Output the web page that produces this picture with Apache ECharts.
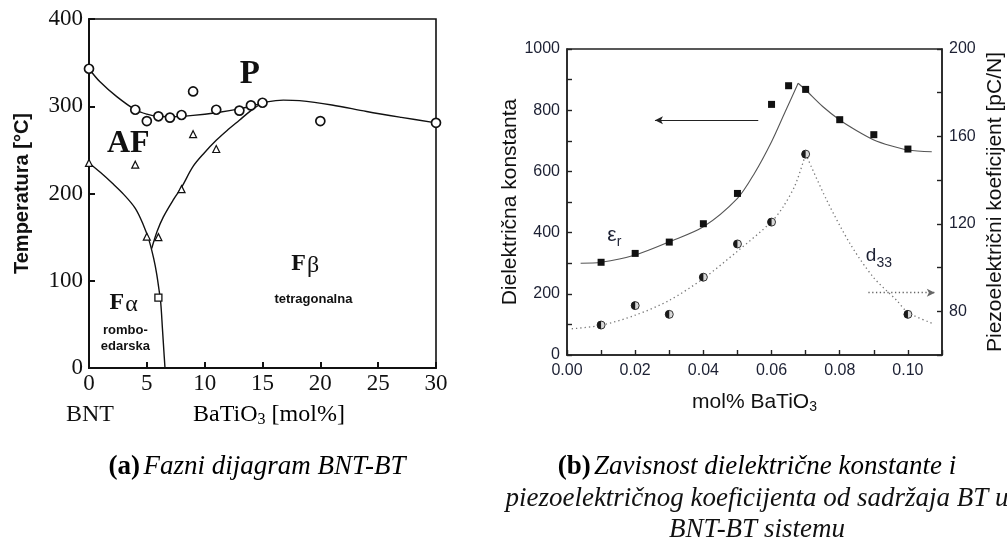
<!DOCTYPE html>
<html><head><meta charset="utf-8">
<script src="https://cdn.jsdelivr.net/npm/echarts@6/dist/echarts.min.js"></script>
<style>html,body{margin:0;padding:0;background:#fff}#c{width:1007px;height:545px}</style>
</head><body><div id="c"></div>
<script>
// ---------- (a) phase diagram BNT-BT ----------
const circleX = [0, 4, 5, 6, 7, 8, 9, 11, 13, 14, 15, 20, 30];
const circleT = [343, 296, 283, 288.5, 287, 290, 317, 296, 295, 301, 304, 283, 281];
const triangleX = [0, 4, 5, 6, 8, 9, 11];
const triangleT = [235, 233, 150.5, 150, 205, 268, 251];
const squareX = [6];
const squareT = [80.6];
const upperLineX = [0, 0.95, 2.4, 4, 5, 6, 7.3, 9, 11, 13, 14, 15.4, 16.8, 18.2, 21, 24, 27, 30];
const upperLineT = [343, 328, 311, 296, 291, 288.5, 288, 289.5, 292.6, 297, 300, 305, 307, 306.4, 301.5, 294, 287.3, 281];
const afLineX = [0, 1, 2, 3, 4, 4.7, 5.2, 5.6, 5.85, 6.05, 6.2, 6.35, 6.47, 6.57];
const afLineT = [235, 224, 212, 199, 183, 164, 146, 125, 108, 90, 75, 45, 20, 0];
const fbLineX = [5.42, 5.9, 6.42, 7.3, 8, 9, 10, 11, 12, 13, 14, 15];
const fbLineT = [137, 157, 173, 193, 207, 231, 247, 261, 273, 284, 295, 304];
const phaseLabelText = ['P', 'AF', 'Fβ', 'Fα', 'tetragonalna', 'rombo-\nedarska'];
const phaseLabelX = [13.9, 3.4, 18.7, 3.0, 19.4, 3.15];
const phaseLabelT = [336, 257, 119, 75, 79, 34];

// ---------- (b) dielectric / piezoelectric ----------
const btX = [0.01, 0.02, 0.03, 0.04, 0.05, 0.06, 0.065, 0.07, 0.08, 0.09, 0.10];
const epsR = [303, 332, 369, 429, 528, 819, 880, 868, 769, 720, 673];
const d33X = [0.01, 0.02, 0.03, 0.04, 0.05, 0.06, 0.07, 0.10];
const d33 = [73.7, 82.6, 78.6, 95.6, 110.8, 120.8, 151.9, 78.6];
const epsFitRiseX = [0.004, 0.01, 0.02, 0.03, 0.04, 0.05, 0.055, 0.06, 0.064, 0.0678];
const epsFitRise = [300, 303, 327, 370, 419, 512, 594, 697, 795, 888];
const epsFitFallX = [0.0678, 0.07, 0.075, 0.08, 0.085, 0.09, 0.095, 0.10, 0.107];
const epsFitFall = [888, 866, 812, 768, 733, 703, 684, 670, 664];
const d33FitRiseX = [0.0014, 0.01, 0.02, 0.03, 0.04, 0.05, 0.06, 0.0634, 0.067, 0.07];
const d33FitRise = [72, 73.6, 78.2, 85, 95, 107.5, 121, 127.8, 138, 152];
const d33FitFallX = [0.07, 0.0762, 0.083, 0.0898, 0.0967, 0.10, 0.107];
const d33FitFall = [152, 130.8, 111, 95.7, 85, 79.5, 74.6];
const epsArrowX = [0.0561, 0.0258];
const epsArrowY = [767, 767];
const d33ArrowX = [0.0884, 0.1079];
const d33ArrowY = [88.5, 88.5];
const epsLabelX = 0.0139, epsLabelY = 390;
const d33LabelX = 0.0915, d33LabelY = 323;

const zip = (xs, ys) => xs.map((x, i) => [x, ys[i]]);

const SERIF = '"Liberation Serif", "DejaVu Serif", serif';
const SANS = '"Liberation Sans", Arial, sans-serif';
const INK = '#111';
const INK2 = '#1c2033';
const CLEAR = 'rgba(0,0,0,0)';
const CAP = 27;

const phaseLabelStyles = [
  {formatter: '{a|P}', rich: {a: {fontFamily: SERIF, fontWeight: 'bold', fontSize: 33, color: INK}}},
  {formatter: '{a|AF}', rich: {a: {fontFamily: SERIF, fontWeight: 'bold', fontSize: 32, color: INK}}},
  {formatter: '{f|F}{g|β}', rich: {f: {fontFamily: SERIF, fontWeight: 'bold', fontSize: 24, color: INK}, g: {fontFamily: SERIF, fontSize: 24, color: INK, padding: [4, 0, 0, 1]}}},
  {formatter: '{f|F}{g|α}', rich: {f: {fontFamily: SERIF, fontWeight: 'bold', fontSize: 24, color: INK}, g: {fontFamily: SERIF, fontSize: 24, color: INK, padding: [4, 0, 0, 1]}}},
  {formatter: '{t|tetragonalna}', rich: {t: {fontFamily: SANS, fontWeight: 'bold', fontSize: 13, color: INK}}},
  {formatter: '{t|rombo-}\n{t|edarska}', rich: {t: {fontFamily: SANS, fontWeight: 'bold', fontSize: 13, lineHeight: 16, color: INK}}}
];

const lineA = (xs, ys) => ({
  type: 'line', xAxisIndex: 0, yAxisIndex: 0, data: zip(xs, ys), smooth: 0.35,
  symbol: 'none', lineStyle: {color: INK, width: 1.4}, silent: true, z: 3
});

const halfDisc = 'path://M10,0 A10,10 0 0,0 10,20 Z';

const option = {
  animation: false,
  backgroundColor: '#fff',
  grid: [
    {left: 89, top: 19, width: 347, height: 349, show: true, borderColor: INK, borderWidth: 1.6, outerBoundsMode: 'none', containLabel: false},
    {left: 567, top: 49, width: 375, height: 306, show: true, borderColor: '#222', borderWidth: 1.4, outerBoundsMode: 'none', containLabel: false}
  ],
  xAxis: [
    {gridIndex: 0, type: 'value', min: 0, max: 30, interval: 5,
     axisLine: {lineStyle: {color: INK, width: 2.2}},
     axisTick: {inside: true, length: 6, lineStyle: {color: INK, width: 2}},
     axisLabel: {fontFamily: SERIF, fontSize: 23, color: INK, margin: 4},
     splitLine: {show: false}},
    {gridIndex: 1, type: 'value', min: 0, max: 0.11, interval: 0.01,
     axisLine: {lineStyle: {color: '#222', width: 1.6}},
     axisTick: {inside: true, length: 5, lineStyle: {color: '#222', width: 1.4}},
     axisLabel: {fontFamily: SANS, fontSize: 16, color: INK2, margin: 8,
       formatter: v => { const k = Math.round(v * 100); return k % 2 === 0 ? (k / 100).toFixed(2) : ''; }},
     splitLine: {show: false},
     name: 'mol% BaTiO{s|3}', nameLocation: 'middle', nameGap: 36,
     nameTextStyle: {fontFamily: SANS, fontSize: 21, color: INK,
       rich: {s: {fontFamily: SANS, fontSize: 14, color: INK, padding: [9, 0, 0, 0]}}}}
  ],
  yAxis: [
    {gridIndex: 0, type: 'value', min: 0, max: 400, interval: 100,
     axisLine: {lineStyle: {color: INK, width: 2}},
     axisTick: {inside: true, length: 6, lineStyle: {color: INK, width: 2}},
     axisLabel: {fontFamily: SERIF, fontSize: 23, color: INK, margin: 6},
     splitLine: {show: false},
     name: 'Temperatura [°C]', nameLocation: 'middle', nameGap: 57, nameRotate: 90,
     nameTextStyle: {fontFamily: SANS, fontWeight: 'bold', fontSize: 20, color: INK}},
    {gridIndex: 1, type: 'value', min: 0, max: 1000, interval: 100, position: 'left',
     axisLine: {lineStyle: {color: '#222', width: 1.6}},
     axisTick: {inside: true, length: 5, lineStyle: {color: '#222', width: 1.4}},
     axisLabel: {fontFamily: SANS, fontSize: 16, color: INK2, margin: 7,
       formatter: v => (Math.round(v) % 200 === 0 ? String(Math.round(v)) : '')},
     splitLine: {show: false},
     name: 'Dielektrična konstanta', nameLocation: 'middle', nameGap: 42, nameRotate: 90,
     nameTextStyle: {fontFamily: SANS, fontSize: 21, color: INK}},
    {gridIndex: 1, type: 'value', min: 60, max: 200, interval: 20, position: 'right',
     axisLine: {lineStyle: {color: '#222', width: 1.6}},
     axisTick: {inside: true, length: 5, lineStyle: {color: '#222', width: 1.4}},
     axisLabel: {fontFamily: SANS, fontSize: 16, color: INK2, margin: 7,
       formatter: v => (Math.round(v) % 40 === 0 ? String(Math.round(v)) : '')},
     splitLine: {show: false},
     name: 'Piezoelektrični koeficijent [pC/N]', nameLocation: 'middle', nameGap: 43, nameRotate: 90,
     nameTextStyle: {fontFamily: SANS, fontSize: 21, color: INK}}
  ],
  series: [
    lineA(upperLineX, upperLineT),
    lineA(afLineX, afLineT),
    lineA(fbLineX, fbLineT),
    {type: 'scatter', xAxisIndex: 0, yAxisIndex: 0, data: zip(circleX, circleT), symbol: 'circle', symbolSize: 9,
     itemStyle: {color: '#fff', borderColor: INK, borderWidth: 1.7, opacity: 1}, z: 4},
    {type: 'scatter', xAxisIndex: 0, yAxisIndex: 0, data: zip(triangleX, triangleT), symbol: 'triangle', symbolSize: 7,
     itemStyle: {color: '#fff', borderColor: INK, borderWidth: 1.2, opacity: 1}, z: 4},
    {type: 'scatter', xAxisIndex: 0, yAxisIndex: 0, data: zip(squareX, squareT), symbol: 'rect', symbolSize: 7,
     itemStyle: {color: '#fff', borderColor: INK, borderWidth: 1.3, opacity: 1}, z: 4},
    {type: 'scatter', xAxisIndex: 0, yAxisIndex: 0, symbol: 'circle', symbolSize: 2, itemStyle: {color: CLEAR, opacity: 1}, silent: true, z: 5,
     data: phaseLabelText.map((t, i) => ({value: [phaseLabelX[i], phaseLabelT[i]], name: t,
       label: Object.assign({show: true, position: 'inside', align: 'center', verticalAlign: 'middle'}, phaseLabelStyles[i])}))},

    // (b)
    {type: 'line', xAxisIndex: 1, yAxisIndex: 1, data: zip(epsFitRiseX, epsFitRise), smooth: 0.3, symbol: 'none',
     lineStyle: {color: '#555', width: 1.1}, silent: true, z: 3,
     markLine: {silent: true, symbol: ['none', 'arrow'], symbolSize: [6, 8], label: {show: false},
       lineStyle: {color: '#222', width: 1.1, type: 'solid'},
       data: [[{coord: [epsArrowX[0], epsArrowY[0]]}, {coord: [epsArrowX[1], epsArrowY[1]]}]]}},
    {type: 'line', xAxisIndex: 1, yAxisIndex: 1, data: zip(epsFitFallX, epsFitFall), smooth: 0.3, symbol: 'none',
     lineStyle: {color: '#555', width: 1.1}, silent: true, z: 3},
    {type: 'line', xAxisIndex: 1, yAxisIndex: 2, data: zip(d33FitRiseX, d33FitRise), smooth: 0.3, symbol: 'none',
     lineStyle: {color: '#777', width: 1.3, type: [1.3, 3]}, silent: true, z: 3,
     markLine: {silent: true, symbol: ['none', 'arrow'], symbolSize: [6, 8], label: {show: false},
       lineStyle: {color: '#666', width: 1.3, type: [1.3, 2.5]},
       data: [[{coord: [d33ArrowX[0], d33ArrowY[0]]}, {coord: [d33ArrowX[1], d33ArrowY[1]]}]]}},
    {type: 'line', xAxisIndex: 1, yAxisIndex: 2, data: zip(d33FitFallX, d33FitFall), smooth: 0.3, symbol: 'none',
     lineStyle: {color: '#777', width: 1.3, type: [1.3, 3]}, silent: true, z: 3},
    {type: 'scatter', xAxisIndex: 1, yAxisIndex: 1, data: zip(btX, epsR), symbol: 'rect', symbolSize: 7,
     itemStyle: {color: '#111', opacity: 1}, z: 4},
    {type: 'scatter', xAxisIndex: 1, yAxisIndex: 2, data: zip(d33X, d33), symbol: 'circle', symbolSize: 8,
     itemStyle: {color: '#d8d8d8', borderColor: '#333', borderWidth: 1, opacity: 1}, z: 4},
    {type: 'scatter', xAxisIndex: 1, yAxisIndex: 2, data: zip(d33X, d33), symbol: halfDisc, symbolSize: 8,
     symbolKeepAspect: true, symbolOffset: [-2, 0], itemStyle: {color: '#1a1a1a', opacity: 1}, z: 5},
    {type: 'scatter', xAxisIndex: 1, yAxisIndex: 1, symbol: 'circle', symbolSize: 2, itemStyle: {color: CLEAR, opacity: 1}, silent: true, z: 5,
     data: [
       {value: [epsLabelX, epsLabelY], label: {show: true, position: 'inside', formatter: '{e|ε}{s|r}',
         rich: {e: {fontFamily: SANS, fontSize: 21, color: INK2}, s: {fontFamily: SANS, fontSize: 14, color: INK2, padding: [12, 0, 0, 0]}}}},
       {value: [d33LabelX, d33LabelY], label: {show: true, position: 'inside', formatter: '{e|d}{s|33}',
         rich: {e: {fontFamily: SANS, fontSize: 19, color: INK2}, s: {fontFamily: SANS, fontSize: 14, color: INK2, padding: [14, 0, 0, 0]}}}}
     ]}
  ],
  graphic: [
    {type: 'text', x: 90, y: 415, silent: true,
     style: {text: 'BNT', font: '24px ' + SERIF, fill: INK, align: 'center', verticalAlign: 'middle'}},
    {type: 'text', x: 269, y: 415, silent: true,
     style: {text: '{m|BaTiO}{s|3}{m| [mol%]}', align: 'center', verticalAlign: 'middle',
       rich: {m: {fontFamily: SERIF, fontSize: 24, color: INK}, s: {fontFamily: SERIF, fontSize: 16, color: INK, padding: [9, 0, 0, 0]}}}},
    {type: 'text', x: 257, y: 467, silent: true,
     style: {text: '{b|(a)} {i|Fazni dijagram BNT-BT}', align: 'center', verticalAlign: 'middle',
       rich: {b: {fontFamily: SERIF, fontWeight: 'bold', fontSize: CAP, color: INK}, i: {fontFamily: SERIF, fontStyle: 'italic', fontSize: CAP, color: INK}}}},
    {type: 'text', x: 757, y: 467, silent: true,
     style: {text: '{b|(b)} {i|Zavisnost dielektrične konstante i}', align: 'center', verticalAlign: 'middle',
       rich: {b: {fontFamily: SERIF, fontWeight: 'bold', fontSize: CAP, color: INK}, i: {fontFamily: SERIF, fontStyle: 'italic', fontSize: CAP, color: INK}}}},
    {type: 'text', x: 757, y: 499, silent: true,
     style: {text: 'piezoelektričnog koeficijenta od sadržaja BT u', font: 'italic ' + CAP + 'px ' + SERIF, fill: INK, align: 'center', verticalAlign: 'middle'}},
    {type: 'text', x: 757, y: 530, silent: true,
     style: {text: 'BNT-BT sistemu', font: 'italic ' + CAP + 'px ' + SERIF, fill: INK, align: 'center', verticalAlign: 'middle'}}
  ]
};
const chart = echarts.init(document.getElementById('c'));
chart.setOption(option);
</script></body></html>
